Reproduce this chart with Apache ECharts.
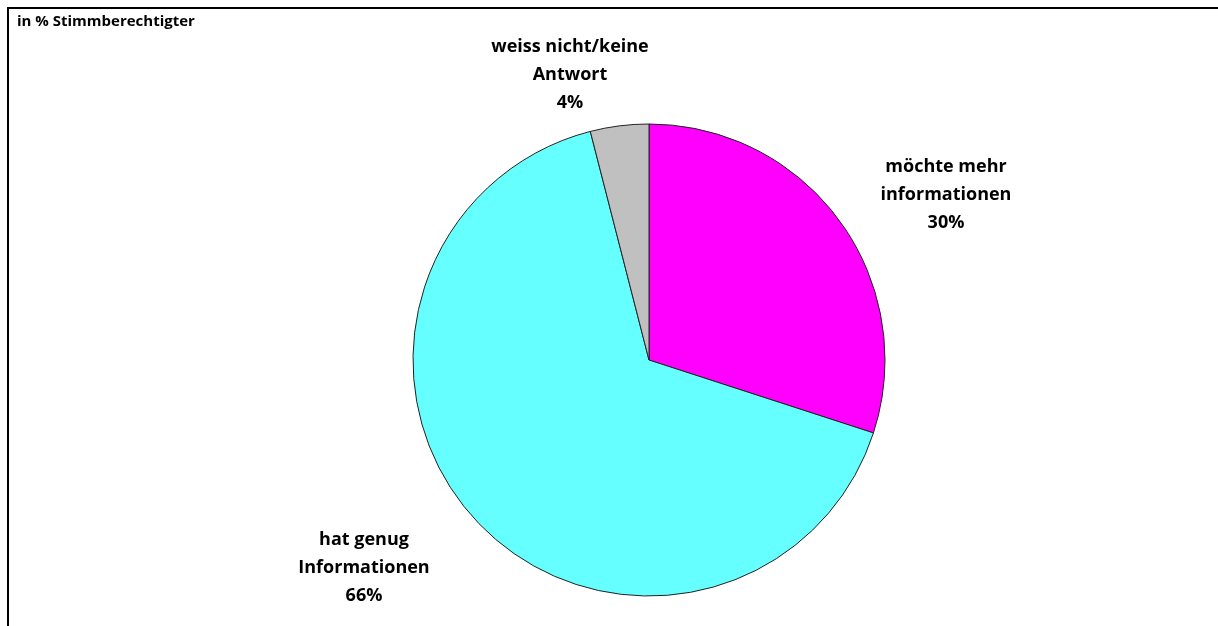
<!DOCTYPE html>
<html><head><meta charset="utf-8">
<script src="https://cdn.jsdelivr.net/npm/echarts@6/dist/echarts.min.js"></script>
<style>html,body{margin:0;padding:0;background:#fff}#c{width:1218px;height:626px}</style>
</head><body><div id="c"></div>
<script>
const categories = ['möchte mehr\ninformationen', 'hat genug\nInformationen', 'weiss nicht/keine\nAntwort'];
const values = [30, 66, 4];
const colors = ['#FF00FF', '#66FFFF', '#C0C0C0'];
const labelPos = [[946, 195], [364, 568], [570, 75]];

const chart = echarts.init(document.getElementById('c'));
chart.setOption({
  animation: false,
  graphic: [
    { type: 'rect', shape: { x: 8, y: 8, width: 1240, height: 700 }, style: { fill: 'none', stroke: '#000', lineWidth: 2 }, silent: true },
    { type: 'text', left: 17, top: 14, style: { text: 'in % Stimmberechtigter', font: 'bold 15px "Open Sans"', fill: '#000' } }
  ],
  series: [{
    type: 'pie',
    center: [649, 360],
    radius: 236,
    startAngle: 90,
    clockwise: true,
    data: categories.map((n, i) => ({ name: n, value: values[i], itemStyle: { color: colors[i] } })),
    itemStyle: { borderColor: '#222', borderWidth: 1 },
    label: {
      show: true,
      position: 'outside',
      formatter: p => p.name + '\n' + p.value + '%',
      fontFamily: 'Open Sans',
      fontWeight: 'bold',
      fontSize: 18,
      lineHeight: 28,
      color: '#000',
      align: 'center'
    },
    labelLine: { show: false },
    labelLayout: p => ({ x: labelPos[p.dataIndex][0], y: labelPos[p.dataIndex][1], align: 'center', verticalAlign: 'middle' })
  }]
});
</script></body></html>
